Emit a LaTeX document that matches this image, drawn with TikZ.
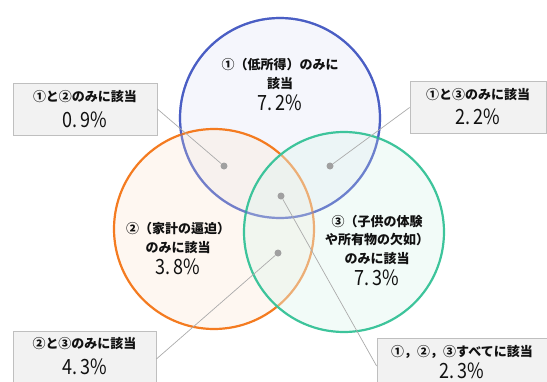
\documentclass[tikz,border=0pt]{standalone}
\usepackage{fontspec}
\setmainfont{Noto Sans CJK JP}
\definecolor{cblue}{HTML}{4A5EC4}
\definecolor{corange}{HTML}{F47B20}
\definecolor{cgreen}{HTML}{3DC49B}
\definecolor{fblue}{HTML}{E6EAF7}
\definecolor{forange}{HTML}{FCEBDD}
\definecolor{fgreen}{HTML}{E1F5EE}
\definecolor{boxfill}{HTML}{F2F2F2}
\definecolor{boxline}{HTML}{BFBFBF}
\definecolor{leader}{HTML}{ABABAB}
\definecolor{dotc}{HTML}{A0A0A0}
\definecolor{txt}{HTML}{111111}
\tikzset{
  setc/.style={circle, minimum size=200pt, inner sep=0pt, line width=2.2pt, fill opacity=0.42, draw opacity=1},
  infobox/.style={draw=boxline, fill=boxfill, line width=0.8pt, minimum height=52pt, inner sep=0pt, align=center, text=txt},
  dotn/.style={circle, fill=dotc, minimum size=7pt, inner sep=0pt},
  leadline/.style={draw=leader, line width=0.7pt},
  lbl/.style={font=\bfseries\fontsize{13}{18.5}\selectfont, text=txt, align=center, inner sep=0pt},
  pct/.style={font=\fontsize{20}{22}\selectfont, text=txt, inner sep=0pt},
}
\newcommand{\pc}[1]{\scalebox{0.9}[1.05]{#1}}
\begin{document}
\begin{tikzpicture}[x=1pt,y=-1pt]
\useasboundingbox (0,0) rectangle (547,381);
\clip (0,0) rectangle (547,381);
\node[setc, draw=cblue, fill=fblue] (c1) at (280,118) {};
\node[setc, draw=corange, fill=forange] (c2) at (214,229) {};
\node[setc, draw=cgreen, fill=fgreen] (c3) at (344,232) {};
\draw[cblue, line width=2.2pt, draw opacity=0.45] (c1) circle (100pt);

% circle texts
\node[lbl] (t1) at (280,74) {①（低所得）のみに\\該当};
\node[pct] (p1) at (280,103) {\pc{7.\,2\%}};
\node[lbl] (t2) at (178,238) {②（家計の逼迫）\\のみに該当};
\node[pct] (p2) at (178,267) {\pc{3.\,8\%}};
\node[lbl] (t3) at (377,240) {③（子供の体験\\や所有物の欠如）\\のみに該当};
\node[pct] (p3) at (377,278) {\pc{7.\,3\%}};

% dots
\node[dotn] (d12) at (224,166) {};
\node[dotn] (d13) at (330,166) {};
\node[dotn] (d123) at (281,196) {};
\node[dotn] (d23) at (278,253) {};

% boxes
\node[infobox, minimum width=144pt] (b12) at (85,109) {};
\node[lbl] at (85,97) {①と②のみに該当};
\node[pct] at (85,120) {\pc{0.\,9\%}};
\node[infobox, minimum width=136pt] (b13) at (478,107.5) {};
\node[lbl] at (478,95) {①と③のみに該当};
\node[pct] at (478,117) {\pc{2.\,2\%}};
\node[infobox, minimum width=143pt, minimum height=56pt] (b23) at (84.5,359) {};
\node[lbl] at (84.5,344) {②と③のみに該当};
\node[pct] at (84.5,367) {\pc{4.\,3\%}};
\node[infobox, minimum width=172pt, minimum height=56pt] (b123) at (463,366) {};
\node[lbl] at (462,352) {①，②，③すべてに該当};
\node[pct] at (462,371) {\pc{2.\,3\%}};

% leaders
\draw[leadline] (b12.east) -- (d12);
\draw[leadline] (b13.west) -- (d13);
\draw[leadline] (b23.east) -- (d23);
\draw[leadline] (b123.west) -- (d123);
\end{tikzpicture}
\end{document}
